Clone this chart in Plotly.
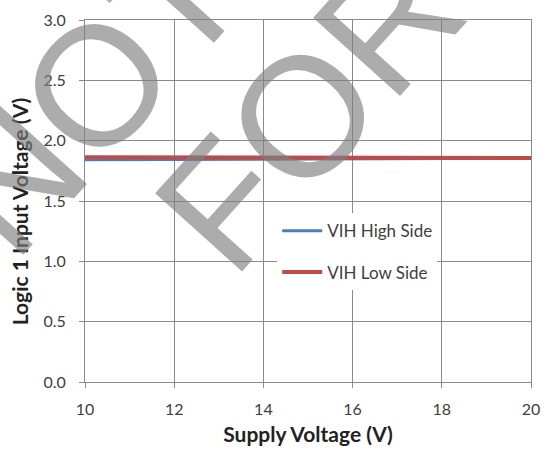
import plotly.graph_objects as go

# Supply voltage sweep (V)
supply_v = [10, 12, 14, 16, 18, 20]
# Logic-1 input threshold (V)
vih_high_side = [1.842, 1.845, 1.848, 1.851, 1.853, 1.855]
vih_low_side = [1.862, 1.862, 1.861, 1.860, 1.858, 1.856]

x_ticks = [10, 12, 14, 16, 18, 20]
y_ticks = [0.0, 0.5, 1.0, 1.5, 2.0, 2.5, 3.0]

grid_col = "#8a8a8a"
txt_font = "Lato, 'Open Sans', sans-serif"
title_font = dict(family=txt_font, size=21, color="#222222")

fig = go.Figure()
fig.add_trace(go.Scatter(
    x=supply_v, y=vih_high_side, mode="lines", name="VIH High Side",
    line=dict(color="#4a7ebb", width=3), legendgroup="a",
))
fig.add_trace(go.Scatter(
    x=supply_v, y=vih_low_side, mode="lines", name="VIH Low Side",
    line=dict(color="#be4b48", width=4), legendgroup="b",
))

axis_common = dict(
    showgrid=True, gridcolor=grid_col, gridwidth=1,
    showline=True, linecolor=grid_col, linewidth=1, mirror=True,
    ticks="outside", ticklen=5, tickcolor=grid_col, tickwidth=1,
    zeroline=False,
    tickfont=dict(family=txt_font, size=16, color="#404040"),
)

fig.update_xaxes(
    range=[10, 20], tickvals=x_ticks, ticktext=[str(v) for v in x_ticks],
    title=dict(text="<b>Supply Voltage (V)</b>", standoff=10, font=title_font),
    ticklabelstandoff=8,
    **axis_common,
)
fig.update_yaxes(
    range=[0, 3.0], tickvals=y_ticks, ticktext=[f"{v:.1f}" for v in y_ticks],
    ticklabelstandoff=10,
    **axis_common,
)

# Vertical axis title, set slightly below the plot centre
fig.add_annotation(text="<b>Logic 1 Input Voltage (V)</b>", xref="paper", yref="paper",
                   x=-0.147, y=0.47, xanchor="center", yanchor="middle",
                   textangle=-90, showarrow=False, font=title_font)

# Watermark lettering laid over the chart
wm_font = dict(family="Liberation Sans, Arial, sans-serif", size=170,
               color="rgba(128,128,128,0.65)")
fig.add_annotation(text="NOT", xref="paper", yref="paper", x=0.012, y=0.80,
                   xanchor="center", yanchor="middle", textangle=-48,
                   showarrow=False, font=wm_font)
fig.add_annotation(text="FOR NEW", xref="paper", yref="paper", x=0.835, y=1.21,
                   xanchor="center", yanchor="middle", textangle=-48,
                   showarrow=False, font=wm_font)

fig.update_layout(
    width=550, height=453,
    margin=dict(l=85, r=10, t=14, b=70),
    paper_bgcolor="white", plot_bgcolor="white",
    showlegend=True,
    legend=dict(
        x=0.431, y=0.466, xanchor="left", yanchor="top",
        bgcolor="white", borderwidth=0,
        font=dict(family=txt_font, size=17, color="#404040"),
        tracegroupgap=16, itemwidth=40,
    ),
)

fig.write_html("out.html")
